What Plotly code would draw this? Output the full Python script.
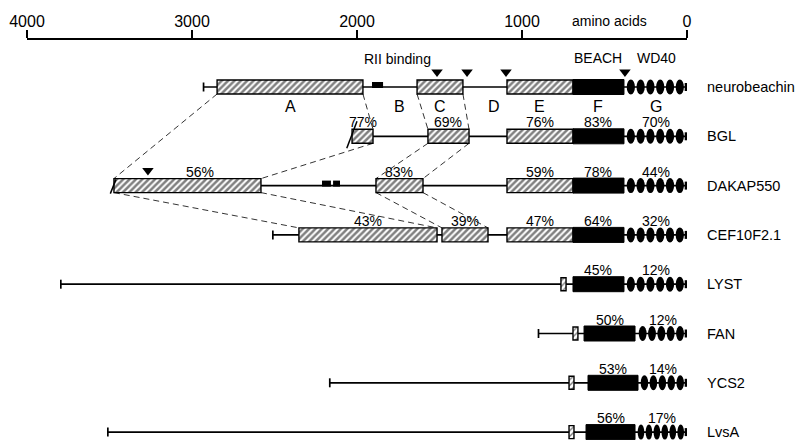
import plotly.graph_objects as go

# ---------------- data (amino-acid positions, counted from the C terminus) ----------------
proteins = ["neurobeachin", "BGL", "DAKAP550", "CEF10F2.1", "LYST", "FAN", "YCS2", "LvsA"]
n_terminus = [2930, 2030, 3475, 2510, 3795, 900, 2165, 3510]
truncated = [False, True, True, False, False, False, False, False]

hatched_from = [[2848, 1636, 1091], [2030, 1570, 1091], [3473, 1885, 1091], [2352, 1485, 1091], [], [], [], []]
hatched_to = [[1964, 1358, 691], [1903, 1321, 691], [2582, 1600, 691], [1515, 1206, 691], [], [], [], []]
hatched_pct = [[None, None, None], [77, 69, 76], [56, 83, 59], [43, 39, 47], [], [], [], []]

beach_from = [691, 691, 691, 691, 691, 624, 600, 612]
beach_to = [382, 382, 382, 382, 382, 315, 297, 315]
beach_pct = [None, 83, 78, 64, 45, 50, 53, 56]

wd40_from = [370, 370, 370, 370, 370, 297, 285, 303]
wd40_repeats = [6, 6, 6, 6, 6, 5, 5, 6]
wd40_pct = [None, 70, 44, 32, 12, 12, 14, 17]

open_from = [None, None, None, None, 764, 691, 715, 715]
open_to = [None, None, None, None, 733, 661, 685, 685]

small_black_from = [[1909], [], [2212, 2145], [], [], [], [], []]
small_black_to = [[1842], [], [2158, 2103], [], [], [], [], []]

triangles = [[1515, 1333, 1097, 376], [], [3267], [], [], [], [], []]

region_letters = ["A", "B", "C", "D", "E", "F", "G"]

# homology links: (upper row, upper box, lower row, lower box, edge)
links = [(0, 0, 2, 0, "from"), (0, 0, 1, 0, "to"), (1, 0, 2, 0, "to"),
         (0, 1, 1, 1, "from"), (0, 1, 1, 1, "to"),
         (1, 1, 2, 1, "from"), (1, 1, 2, 1, "to"),
         (2, 0, 3, 0, "from"), (2, 0, 3, 0, "to"),
         (2, 1, 3, 1, "from"), (2, 1, 3, 1, "to")]

axis_ticks = [4000, 3000, 2000, 1000, 0]
axis_ticktext = ["4000", "3000", "2000", "1000", "0"]

# ---------------- layout constants ----------------
# the page body has an 8px margin, so the figure is sized/offset to compensate
ROW_Y0, ROW_STEP = 87, 49.3
row_y = [ROW_Y0 + i * ROW_STEP for i in range(len(proteins))]
BOX_H = 14
FONT = "Liberation Sans, Arial, Helvetica, sans-serif"
BLACK = "#000000"

fig = go.Figure()
shapes = []
annotations = []

# backbone lines, start ticks, end marks
for i, y in enumerate(row_y):
    shapes.append(dict(type="line", xref="x", yref="y", x0=n_terminus[i], x1=0, y0=y, y1=y,
                       line=dict(color=BLACK, width=1.7), layer="below"))
    if not truncated[i]:
        shapes.append(dict(type="line", xref="x", yref="y", x0=n_terminus[i], x1=n_terminus[i],
                           y0=y - 4.5, y1=y + 4.5, line=dict(color=BLACK, width=1.7)))
    shapes.append(dict(type="rect", xref="x", yref="y", x0=14, x1=0, y0=y - 4, y1=y + 4,
                       fillcolor=BLACK, line=dict(width=0)))

# truncation slants
for i, y in enumerate(row_y):
    if truncated[i]:
        left = hatched_from[i][0]
        big = i == 1
        shapes.append(dict(type="line", xref="x", yref="y",
                           x0=left + (32 if big else 22), y0=y + (12 if big else 8),
                           x1=left - (30 if big else 12), y1=y - (15 if big else 6),
                           line=dict(color=BLACK, width=1.5)))

# hatched boxes
hx, hb, hy = [], [], []
for i, y in enumerate(row_y):
    for a, b in zip(hatched_from[i], hatched_to[i]):
        hb.append(b); hx.append(a - b); hy.append(y)
fig.add_trace(go.Bar(orientation="h", y=hy, x=hx, base=hb, width=BOX_H,
                     marker=dict(color="white", line=dict(color=BLACK, width=1.4),
                                 pattern=dict(shape="/", fgcolor=BLACK, bgcolor="white",
                                              size=4.5, solidity=0.55)),
                     hoverinfo="skip", showlegend=False))

# BEACH domains
fig.add_trace(go.Bar(orientation="h", y=row_y, x=[a - b for a, b in zip(beach_from, beach_to)],
                     base=beach_to, width=BOX_H + 1,
                     marker=dict(color=BLACK, line=dict(color=BLACK, width=1)),
                     hoverinfo="skip", showlegend=False))

# small open boxes
ox, ob, oy = [], [], []
for i, y in enumerate(row_y):
    if open_from[i] is not None:
        ob.append(open_to[i]); ox.append(open_from[i] - open_to[i]); oy.append(y)
fig.add_trace(go.Bar(orientation="h", y=oy, x=ox, base=ob, width=BOX_H - 1,
                     marker=dict(color="white", line=dict(color=BLACK, width=1.4),
                                 pattern=dict(shape="/", fgcolor=BLACK, bgcolor="white",
                                              size=4, solidity=0.35)),
                     hoverinfo="skip", showlegend=False))

# small black boxes
sx, sb, sy = [], [], []
for i, y in enumerate(row_y):
    for a, b in zip(small_black_from[i], small_black_to[i]):
        sb.append(b); sx.append(a - b); sy.append(y - 2)
fig.add_trace(go.Bar(orientation="h", y=sy, x=sx, base=sb, width=6,
                     marker=dict(color=BLACK, line=dict(width=0)),
                     hoverinfo="skip", showlegend=False))

# WD40 repeats as ellipses
for i, y in enumerate(row_y):
    n = wd40_repeats[i]
    start, end = wd40_from[i], 14
    slot = (start - end) / n
    for k in range(n):
        x_hi = start - k * slot
        shapes.append(dict(type="circle", xref="x", yref="y",
                           x0=x_hi - 0.08 * slot, x1=x_hi - 0.92 * slot,
                           y0=y - 7.5, y1=y + 7.5, fillcolor=BLACK, line=dict(width=0)))

# triangles (markers)
tx, ty = [], []
for i, y in enumerate(row_y):
    for t in triangles[i]:
        tx.append(t); ty.append(y - 15)
fig.add_trace(go.Scatter(x=tx, y=ty, mode="markers",
                         marker=dict(symbol="triangle-down", size=10, color=BLACK),
                         hoverinfo="skip", showlegend=False))

# homology dashed links
for ra, ba, rb, bb, edge in links:
    src = hatched_from if edge == "from" else hatched_to
    shapes.append(dict(type="line", xref="x", yref="y",
                       x0=src[ra][ba], y0=row_y[ra] + BOX_H / 2,
                       x1=src[rb][bb], y1=row_y[rb] - BOX_H / 2,
                       line=dict(color=BLACK, width=0.8, dash="6px,4px")))

# protein names
for i, y in enumerate(row_y):
    annotations.append(dict(xref="paper", yref="y", x=1.027, y=y, text=proteins[i],
                            showarrow=False, xanchor="left", yanchor="middle",
                            font=dict(size=14.5, color=BLACK, family=FONT)))

# percent identities
PCT_FONT = dict(size=14, color=BLACK, family=FONT)
pct_shift = {(2, 0): 13}
for i, y in enumerate(row_y):
    for j, (a, b) in enumerate(zip(hatched_from[i], hatched_to[i])):
        p = hatched_pct[i][j]
        if p is not None:
            annotations.append(dict(x=(a + b) / 2, y=y - 14, text=f"{p}%", showarrow=False,
                                    xshift=pct_shift.get((i, j), 0), yanchor="middle",
                                    font=PCT_FONT))
    if beach_pct[i] is not None:
        annotations.append(dict(x=(beach_from[i] + beach_to[i]) / 2, y=y - 14,
                                text=f"{beach_pct[i]}%", showarrow=False, yanchor="middle",
                                font=PCT_FONT))
    if wd40_pct[i] is not None:
        annotations.append(dict(x=wd40_from[i] / 2, y=y - 14, text=f"{wd40_pct[i]}%",
                                showarrow=False, yanchor="middle", font=PCT_FONT))

# region letters under neurobeachin
hf, ht = hatched_from[0], hatched_to[0]
letter_x = [(hf[0] + ht[0]) / 2, (ht[0] + hf[1]) / 2, (hf[1] + ht[1]) / 2,
            (ht[1] + hf[2]) / 2, (hf[2] + ht[2]) / 2,
            (beach_from[0] + beach_to[0]) / 2, wd40_from[0] / 2]
letter_shift = [0, 9, 0, 9, 0, 0, 0]
for L, lx, sh in zip(region_letters, letter_x, letter_shift):
    annotations.append(dict(x=lx, y=row_y[0] + 19, text=L, showarrow=False, yanchor="middle",
                            xshift=sh, font=dict(size=16, color=BLACK, family=FONT)))

# domain captions
CAP_FONT = dict(size=14, color=BLACK, family=FONT)
annotations.append(dict(x=(small_black_from[0][0] + small_black_to[0][0]) / 2 - 120, y=row_y[0] - 28,
                        text="RII binding", showarrow=False, yanchor="middle", font=CAP_FONT))
annotations.append(dict(x=(beach_from[0] + beach_to[0]) / 2, y=row_y[0] - 29, text="BEACH",
                        showarrow=False, yanchor="middle", font=CAP_FONT))
annotations.append(dict(x=wd40_from[0] / 2, y=row_y[0] - 29, text="WD40",
                        showarrow=False, yanchor="middle", font=CAP_FONT))
annotations.append(dict(x=470, xref="x", yref="paper", y=1.048, text="amino acids",
                        showarrow=False, yanchor="middle", font=CAP_FONT))

fig.update_layout(
    width=798, height=432,
    margin=dict(l=19, r=119, t=32, b=0),
    paper_bgcolor="white", plot_bgcolor="white",
    barmode="overlay",
    shapes=shapes, annotations=annotations,
    font=dict(family=FONT, color=BLACK),
    xaxis=dict(range=[4000, 0], side="top", tickvals=axis_ticks, ticktext=axis_ticktext,
               ticks="outside", ticklen=8, tickwidth=2, tickcolor=BLACK, ticklabelstandoff=-3,
               showline=True, linewidth=2, linecolor=BLACK, showgrid=False, zeroline=False,
               tickfont=dict(size=16, color=BLACK, family=FONT), fixedrange=True),
    yaxis=dict(range=[440, 40], visible=False, showgrid=False, zeroline=False, fixedrange=True),
)

fig.write_html("out.html")
